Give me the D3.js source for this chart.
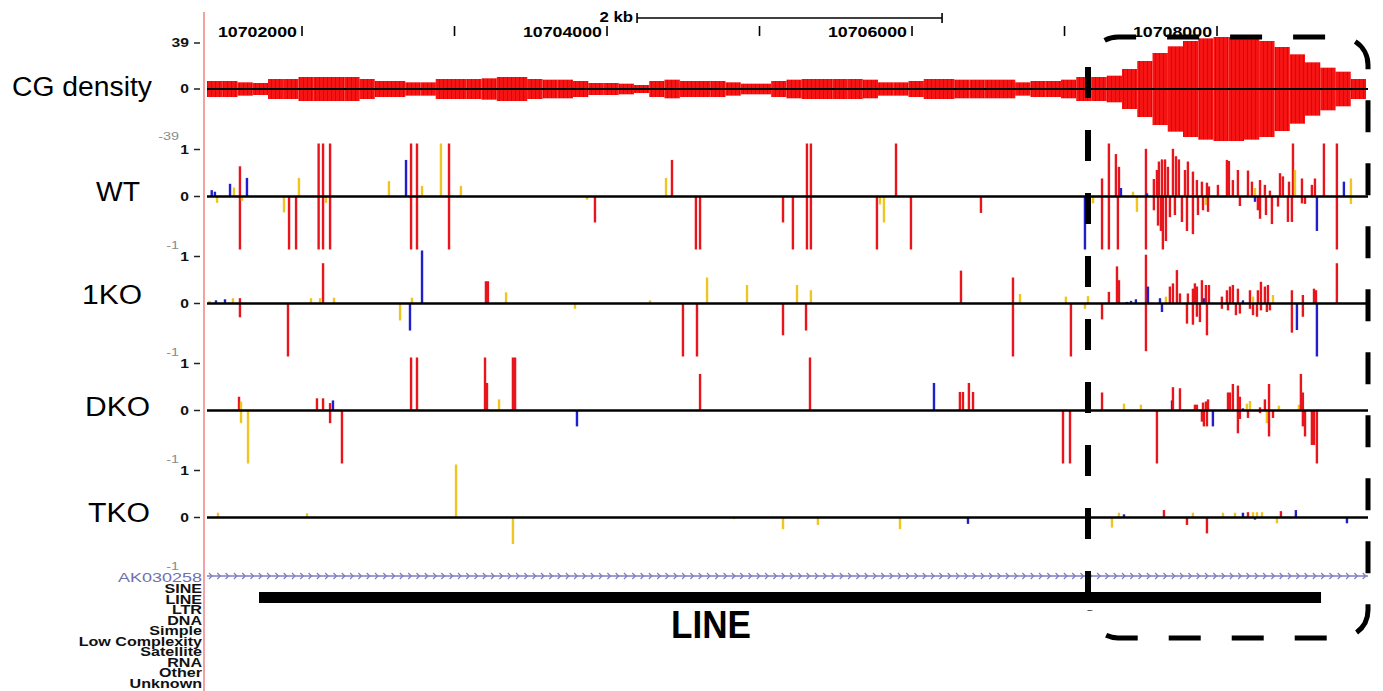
<!DOCTYPE html>
<html>
<head>
<meta charset="utf-8">
<script src="https://cdn.jsdelivr.net/npm/d3@7"></script>
<style>
  body { margin: 0; background: #fff; }
  svg { display: block; }
</style>
</head>
<body>
<svg id="chart" width="1383" height="691"></svg>
<script>
// ---- Browser window (chr coordinates, bp) ----
const chromStart = 10701377;
const chromEnd = 10708990;
const rulerTicks = [10702000, 10703000, 10704000, 10705000, 10706000, 10707000, 10708000];
const rulerLabels = [10702000, 10704000, 10706000, 10708000];
const scaleBarStart = 10704197;
const scaleBarLength = 2000;
const scaleBarLabel = "2 kb";

// ---- CG density, 100 bp windows from chromStart ----
const cgWindow = 100;
const cgMax = 39;
const cgDensity = [
  6, 6, 5, 4.5, 7.5, 7.5, 9, 9, 9, 9,
  7.5, 6, 6, 5, 5, 7.5, 7.5, 7.5, 8, 9,
  9, 7.5, 7, 7, 6, 4.5, 4.5, 4, 3, 6,
  7, 6, 6, 6, 5, 4, 4, 6, 7, 7.5,
  7.5, 7.5, 7.5, 7, 5, 5, 6, 7.5, 7.5, 7,
  7, 7, 7, 5, 6, 6, 7, 9, 9, 10,
  15, 21, 27, 32, 36, 38, 39, 39, 38, 36,
  31.5, 26, 20, 16, 13, 7.5
];

// ---- Methylation calls per sample: [offset from chromStart (bp), level, context] ----
const wtCalls = [
  [31,0.12,"CHH"],[52,0.09,"CHH"],[66,-0.12,"CHG"],[151,0.24,"CHH"],[177,0.17,"CHG"],
  [216,0.57,"CG"],[216,-1,"CG"],[229,-0.08,"CHG"],[262,0.35,"CHH"],[505,-0.3,"CHG"],
  [538,-1,"CG"],[584,-1,"CG"],[603,0.35,"CHG"],[732,1,"CG"],[732,-1,"CG"],
  [761,1,"CG"],[761,-1,"CG"],[780,-0.12,"CHG"],[807,1,"CG"],[807,-1,"CG"],
  [1193,0.29,"CHG"],[1305,0.69,"CHH"],[1338,1,"CG"],[1338,-1,"CG"],[1377,1,"CG"],
  [1377,-1,"CG"],[1410,0.2,"CHG"],[1534,1,"CHG"],[1587,1,"CG"],[1587,-1,"CG"],
  [1665,0.2,"CHG"],[2492,-0.06,"CHG"],[2544,-0.49,"CG"],[3010,0.35,"CHG"],[3049,0.69,"CG"],
  [3206,-1,"CG"],[3233,-1,"CG"],[3777,-0.49,"CG"],[3842,-1,"CG"],[3934,1,"CG"],
  [3934,-1,"CG"],[3960,1,"CG"],[3960,-1,"CG"],[4393,-1,"CG"],[4413,-0.15,"CHG"],
  [4439,-0.49,"CHG"],[4518,1,"CG"],[4616,-1,"CG"],[5075,-0.31,"CG"],[5757,-1,"CHH"],
  [5810,-0.13,"CHG"],[5869,0.34,"CG"],[5869,-1,"CG"],[5914,1,"CG"],[5914,-1,"CG"],
  [5960,0.8,"CG"],[5973,-1,"CG"],[5980,0.56,"CG"],[5993,0.16,"CHH"],[6072,0.09,"CHG"],
  [6098,-0.29,"CHG"],[6157,0.9,"CG"],[6157,-1,"CG"],[6164,0.06,"CHH"],[6209,0.33,"CG"],
  [6209,-0.26,"CG"],[6229,0.5,"CG"],[6236,-0.55,"CG"],[6242,0.66,"CG"],[6255,-0.65,"CG"],
  [6262,0.7,"CG"],[6268,-1,"CG"],[6282,0.7,"CG"],[6288,-0.84,"CG"],[6301,0.56,"CG"],
  [6314,-0.39,"CG"],[6334,0.9,"CG"],[6347,-0.35,"CG"],[6354,0.76,"CG"],[6373,0.7,"CG"],
  [6393,-0.48,"CG"],[6413,0.5,"CG"],[6426,-0.65,"CG"],[6432,0.66,"CG"],[6465,0.47,"CG"],
  [6465,-0.71,"CG"],[6491,0.31,"CG"],[6498,-0.35,"CG"],[6524,0.28,"CG"],[6531,-0.26,"CG"],
  [6550,-0.16,"CHG"],[6557,0.26,"CG"],[6564,-0.29,"CG"],[6570,0.19,"CG"],[6629,0.22,"CG"],
  [6688,0.69,"CG"],[6701,0.67,"CG"],[6727,0.31,"CG"],[6760,0.5,"CG"],[6773,-0.18,"CG"],
  [6826,0.49,"CG"],[6852,0.28,"CG"],[6872,0.16,"CHG"],[6872,-0.1,"CHH"],[6891,-0.26,"CG"],
  [6905,0.31,"CG"],[6905,-0.42,"CG"],[6937,0.22,"CG"],[6944,-0.35,"CG"],[6970,0.11,"CG"],
  [6983,-0.52,"CG"],[7023,-0.19,"CG"],[7036,0.44,"CG"],[7055,0.38,"CG"],[7088,-0.48,"CG"],
  [7095,0.28,"CG"],[7114,-0.48,"CG"],[7121,1,"CG"],[7134,0.5,"CHG"],[7180,0.34,"CG"],
  [7180,-0.13,"CG"],[7200,-0.14,"CG"],[7245,0.22,"CG"],[7265,0.34,"CG"],[7278,-0.65,"CHH"],
  [7324,1,"CG"],[7409,1,"CG"],[7409,-1,"CG"],[7455,0.28,"CHH"],[7501,0.34,"CHG"],
  [7501,-0.14,"CHG"]
];

const ko1Calls = [
  [16,0.05,"CHG"],[59,0.06,"CHH"],[118,0.08,"CHH"],[170,0.1,"CHG"],[216,0.1,"CG"],
  [216,-0.26,"CG"],[531,-1,"CG"],[682,0.1,"CHG"],[741,0.1,"CHG"],[761,0.76,"CG"],
  [833,0.11,"CHG"],[1266,-0.32,"CHG"],[1331,-0.51,"CHH"],[1344,0.11,"CHG"],[1410,1,"CHH"],
  [1829,0.42,"CG"],[1842,0.42,"CG"],[1961,0.21,"CHG"],[2413,-0.1,"CHG"],[2905,0.06,"CHG"],
  [3121,-1,"CG"],[3213,-1,"CG"],[3279,0.49,"CHG"],[3541,0.35,"CHG"],[3777,-0.6,"CG"],
  [3869,0.35,"CHG"],[3928,-0.51,"CG"],[3960,0.25,"CHG"],[4944,0.62,"CG"],[5285,0.49,"CG"],
  [5285,-1,"CG"],[5331,0.18,"CHG"],[5632,0.13,"CHG"],[5665,-1,"CG"],[5757,-0.1,"CHG"],
  [5777,0.14,"CHG"],[5869,-0.3,"CG"],[5914,0.22,"CG"],[5967,0.7,"CG"],[5980,0.44,"CG"],
  [6032,0.03,"CHH"],[6059,0.05,"CHH"],[6091,0.08,"CHH"],[6157,0.92,"CG"],[6157,-0.9,"CG"],
  [6170,0.32,"CHH"],[6249,0.1,"CHH"],[6262,-0.16,"CHH"],[6288,0.13,"CHG"],[6314,0.32,"CG"],
  [6334,0.38,"CG"],[6360,0.63,"CG"],[6380,0.19,"CG"],[6426,-0.38,"CG"],[6432,0.19,"CG"],
  [6465,0.28,"CG"],[6465,-0.4,"CG"],[6478,0.38,"CG"],[6491,0.32,"CG"],[6491,-0.25,"CG"],
  [6511,-0.35,"CG"],[6524,0.44,"CG"],[6537,0.1,"CHH"],[6550,0.35,"CG"],[6557,-0.6,"CG"],
  [6570,0.35,"CG"],[6655,0.13,"CG"],[6655,-0.1,"CG"],[6688,0.25,"CG"],[6695,-0.13,"CG"],
  [6708,0.32,"CG"],[6727,0.35,"CG"],[6747,-0.22,"CG"],[6760,0.28,"CG"],[6773,-0.19,"CG"],
  [6793,0.06,"CHH"],[6839,0.25,"CG"],[6839,-0.1,"CG"],[6859,0.13,"CHG"],[6859,-0.22,"CG"],
  [6885,-0.25,"CG"],[6891,0.25,"CG"],[6911,0.41,"CG"],[6911,-0.13,"CG"],[6937,0.32,"CG"],
  [6950,-0.16,"CG"],[6957,0.35,"CG"],[6970,-0.13,"CG"],[6990,0.16,"CHG"],[7114,0.25,"CG"],
  [7114,-0.55,"CG"],[7147,-0.5,"CHH"],[7186,0.16,"CG"],[7186,-0.25,"CG"],[7259,0.28,"CG"],
  [7272,0.25,"CG"],[7278,-1,"CHH"],[7409,0.76,"CG"]
];

const dkoCalls = [
  [210,0.26,"CG"],[223,0.17,"CHG"],[223,-0.24,"CHG"],[269,-1,"CHG"],[721,0.23,"CG"],
  [761,0.23,"CG"],[807,0.14,"CG"],[807,-0.24,"CG"],[826,0.19,"CHH"],[885,-1,"CG"],
  [1338,1,"CG"],[1377,1,"CG"],[1823,1,"CG"],[1836,0.52,"CG"],[1915,0.21,"CHG"],
  [2006,1,"CG"],[2020,1,"CG"],[2426,-0.3,"CHH"],[3233,0.69,"CG"],[3954,1,"CG"],
  [4767,0.52,"CHH"],[4937,0.35,"CG"],[4957,0.35,"CG"],[4996,0.52,"CG"],[5023,0.35,"CG"],
  [5613,-1,"CG"],[5659,-1,"CG"],[5869,0.34,"CG"],[6013,0.13,"CHG"],[6124,0.11,"CHG"],
  [6229,-1,"CG"],[6328,0.19,"CHH"],[6334,0.44,"CG"],[6380,0.42,"CG"],[6478,0.11,"CG"],
  [6491,0.11,"CG"],[6524,-0.21,"CG"],[6531,0.15,"CG"],[6537,-0.3,"CG"],[6550,0.17,"CG"],
  [6557,-0.3,"CG"],[6564,0.21,"CG"],[6596,-0.3,"CHH"],[6695,0.34,"CG"],[6708,0.34,"CG"],
  [6727,0.5,"CG"],[6760,0.47,"CG"],[6760,-0.43,"CG"],[6773,0.26,"CG"],[6773,-0.16,"CG"],
  [6793,0.04,"CHH"],[6819,0.13,"CHG"],[6826,-0.14,"CG"],[6839,0.18,"CHG"],[6905,0.06,"CG"],
  [6905,-0.05,"CG"],[6937,0.21,"CG"],[6950,-0.24,"CHG"],[6964,0.5,"CG"],[6964,-0.49,"CG"],
  [6990,-0.14,"CG"],[7029,0.09,"CHG"],[7160,0.11,"CHG"],[7173,0.69,"CG"],[7186,0.34,"CG"],
  [7186,-0.3,"CG"],[7200,-0.49,"CG"],[7245,-0.65,"CG"],[7259,-0.65,"CG"],[7278,-1,"CG"]
];

const tkoCalls = [
  [72,0.09,"CHG"],[656,0.08,"CHG"],[1633,1,"CHG"],[2006,-0.5,"CHG"],[3456,-0.03,"CHG"],
  [3777,-0.22,"CHG"],[4006,-0.14,"CHG"],[4544,-0.22,"CHG"],[4990,-0.12,"CHH"],[5934,-0.19,"CHG"],
  [5980,0.09,"CHG"],[6013,0.06,"CHH"],[6275,0.14,"CG"],[6426,-0.14,"CG"],[6465,0.09,"CHG"],
  [6557,-0.3,"CG"],[6662,0.09,"CHG"],[6741,0.09,"CHG"],[6793,0.09,"CHH"],[6826,0.1,"CG"],
  [6859,0.1,"CHG"],[6872,-0.04,"CHH"],[6885,0.1,"CHG"],[6918,0.1,"CHG"],[7016,-0.11,"CHG"],
  [7042,0.12,"CG"],[7140,0.14,"CHH"],[7475,-0.11,"CHH"]
];

const sampleNames = ["WT", "1KO", "DKO", "TKO"];
const sampleCalls = [wtCalls, ko1Calls, dkoCalls, tkoCalls];

// ---- Annotation tracks ----
const geneName = "AK030258";
const repeatClasses = ["SINE", "LINE", "LTR", "DNA", "Simple", "Low Complexity", "Satellite", "RNA", "Other", "Unknown"];
const lineElement = [10701718, 10708682];
const lineElementLabel = "LINE";
const highlightStart = 10707154;

// ---- Drawing ----
const svg = d3.select("#chart");
const FONT = "'Liberation Sans', Arial, Helvetica, sans-serif";
const contextColor = { CG: "#e8161c", CHG: "#efc51f", CHH: "#1f1fcf" };

const x = d3.scaleLinear().domain([chromStart, chromEnd]).range([207, 1368]);
const xOff = off => x(chromStart + off);

// text widened horizontally by factor k (or fitted to an explicit width)
function widen(sel, k) {
  sel.each(function () {
    const w = this.getComputedTextLength();
    this.setAttribute("textLength", (w * k).toFixed(1));
    this.setAttribute("lengthAdjust", "spacingAndGlyphs");
  });
  return sel;
}
function fit(sel, w) {
  return sel.attr("textLength", w).attr("lengthAdjust", "spacingAndGlyphs");
}

// stripe fill for the density bars
const defs = svg.append("defs");
const pat = defs.append("pattern").attr("id", "cgStripes")
  .attr("patternUnits", "userSpaceOnUse").attr("width", 4).attr("height", 8);
pat.append("rect").attr("width", 4).attr("height", 8).attr("fill", "#f51414");
pat.append("rect").attr("x", 3).attr("width", 1).attr("height", 8).attr("fill", "#c00a0a").attr("opacity", 0.75);

// left border line of the image area
svg.append("line").attr("x1", 204).attr("x2", 204).attr("y1", 12).attr("y2", 691)
  .attr("stroke", "#f2a2a2").attr("stroke-width", 2);

// ---- Ruler ----
const ruler = svg.append("g");
ruler.selectAll("line.tick").data(rulerTicks).join("line")
  .attr("x1", d => x(d)).attr("x2", d => x(d)).attr("y1", 26).attr("y2", 36)
  .attr("stroke", "#000").attr("stroke-width", 1.6);
widen(ruler.selectAll("text").data(rulerLabels).join("text")
  .attr("x", d => x(d) - 5).attr("y", 37).attr("text-anchor", "end")
  .attr("font-family", FONT).attr("font-size", 14).attr("font-weight", "bold")
  .text(d => d), 1.27);

const sb0 = x(scaleBarStart), sb1 = x(scaleBarStart + scaleBarLength);
ruler.append("line").attr("x1", sb0).attr("x2", sb1).attr("y1", 18).attr("y2", 18).attr("stroke", "#000").attr("stroke-width", 1.5);
[sb0, sb1].forEach(v => ruler.append("line").attr("x1", v).attr("x2", v).attr("y1", 13).attr("y2", 23).attr("stroke", "#000").attr("stroke-width", 1.6));
widen(ruler.append("text").attr("x", sb0 - 4).attr("y", 22).attr("text-anchor", "end")
  .attr("font-family", FONT).attr("font-size", 14).attr("font-weight", "bold").text(scaleBarLabel), 1.2);

// ---- Track value labels ----
function valueLabels(top, mid, bottom, topTxt, botTxt) {
  const g = svg.append("g").attr("font-family", FONT);
  [[top + 6, topTxt], [mid, "0"]].forEach(([yy, t]) => {
    widen(g.append("text").attr("x", 189).attr("y", yy).attr("dy", "0.35em").attr("text-anchor", "end")
      .attr("font-size", 12).attr("font-weight", "bold").attr("fill", "#111").text(t), 1.3);
    g.append("line").attr("x1", 194).attr("x2", 200).attr("y1", yy).attr("y2", yy).attr("stroke", "#222").attr("stroke-width", 1.5);
  });
  widen(g.append("text").attr("x", 179).attr("y", bottom - 5).attr("dy", "0.35em").attr("text-anchor", "end")
    .attr("font-size", 11.5).attr("fill", "#8a8a8a").text(botTxt), 1.25);
}

// ---- CG density track ----
const cgMid = 89, cgHalf = 52;
const yCG = d3.scaleLinear().domain([-cgMax, cgMax]).range([cgMid + cgHalf, cgMid - cgHalf]);
svg.append("g").selectAll("rect").data(cgDensity).join("rect")
  .attr("x", (d, i) => xOff(i * cgWindow))
  .attr("width", (d, i) => xOff((i + 1) * cgWindow) - xOff(i * cgWindow))
  .attr("y", d => yCG(d))
  .attr("height", d => yCG(-d) - yCG(d))
  .attr("fill", "url(#cgStripes)");
svg.append("line").attr("x1", x(chromStart)).attr("x2", x(chromEnd)).attr("y1", cgMid).attr("y2", cgMid)
  .attr("stroke", "#000").attr("stroke-width", 2);
valueLabels(cgMid - cgHalf, cgMid, cgMid + cgHalf, String(cgMax), String(-cgMax));
fit(svg.append("text").attr("x", 12).attr("y", 96).attr("font-family", FONT).attr("font-size", 27)
  .text("CG density"), 140);

// ---- Methylation tracks ----
const trackMid0 = 196.5, trackPitch = 107, trackHalf = 53;
const labelPlace = [[96, 201, 44], [82, 304, 60], [85, 416, 65], [88, 522, 62]];
sampleNames.forEach((name, i) => {
  const mid = trackMid0 + i * trackPitch;
  const y = d3.scaleLinear().domain([-1, 1]).range([mid + trackHalf, mid - trackHalf]);
  const g = svg.append("g");
  g.selectAll("rect").data(sampleCalls[i]).join("rect")
    .attr("x", d => xOff(d[0]) - 1.2)
    .attr("width", 2.4)
    .attr("y", d => y(Math.max(0, d[1])))
    .attr("height", d => Math.abs(y(d[1]) - y(0)))
    .attr("fill", d => contextColor[d[2]]);
  g.append("line").attr("x1", x(chromStart)).attr("x2", x(chromEnd)).attr("y1", y(0)).attr("y2", y(0))
    .attr("stroke", "#000").attr("stroke-width", 2.5);
  valueLabels(mid - trackHalf, mid, mid + trackHalf, "1", "-1");
  const [lx, ly, lw] = labelPlace[i];
  fit(svg.append("text").attr("x", lx).attr("y", ly).attr("font-family", FONT).attr("font-size", 27).text(name), lw);
});

// ---- Gene track ----
const geneY = 576;
const geneColor = "#7d7dc0";
svg.append("line").attr("x1", x(chromStart)).attr("x2", x(chromEnd)).attr("y1", geneY).attr("y2", geneY)
  .attr("stroke", geneColor).attr("stroke-width", 1.6);
svg.append("g").selectAll("path").data(d3.range(x(chromStart) + 4, x(chromEnd), 8.3)).join("path")
  .attr("d", d => `M${d - 2},${geneY - 3}L${d + 1},${geneY}L${d - 2},${geneY + 3}`)
  .attr("fill", "none").attr("stroke", geneColor).attr("stroke-width", 1.2);
fit(svg.append("text").attr("x", 202).attr("y", 582).attr("text-anchor", "end").attr("font-family", FONT)
  .attr("font-size", 13.5).attr("fill", "#6f6fb0").text(geneName), 84);

// ---- RepeatMasker classes ----
widen(svg.append("g").selectAll("text").data(repeatClasses).join("text")
  .attr("x", 202).attr("y", (d, i) => 593 + i * 10.56).attr("text-anchor", "end")
  .attr("font-family", FONT).attr("font-size", 12).attr("font-weight", "bold").attr("fill", "#111")
  .text(d => d), 1.34);
svg.append("rect").attr("x", x(lineElement[0])).attr("width", x(lineElement[1]) - x(lineElement[0]))
  .attr("y", 592).attr("height", 11).attr("fill", "#000");
fit(svg.append("text").attr("x", 671).attr("y", 638)
  .attr("font-family", "'Liberation Sans Narrow', 'Arial Narrow', " + FONT)
  .attr("font-size", 38).attr("font-weight", "bold").text(lineElementLabel), 80);

// ---- Highlighted region (CpG island) ----
const hx = x(highlightStart);
svg.append("line").attr("x1", hx).attr("x2", hx).attr("y1", 67).attr("y2", 603)
  .attr("stroke", "#000").attr("stroke-width", 6).attr("stroke-dasharray", "31,32");
const L = hx + 2, R = x(chromEnd), T = 37, B = 638, r = 28;
const box = d3.path();
box.moveTo(L, T + r);
box.arcTo(L, T, L + r, T, r);
box.lineTo(R - r, T);
box.arcTo(R, T, R, T + r, r);
box.lineTo(R, B - r);
box.arcTo(R, B, R - r, B, r);
box.lineTo(L + r, B);
box.arcTo(L, B, L, B - r, r);
svg.append("path").attr("d", box.toString()).attr("fill", "none").attr("stroke", "#000")
  .attr("stroke-width", 5).attr("stroke-dasharray", "32,31").attr("stroke-dashoffset", 33);
</script>
</body>
</html>
